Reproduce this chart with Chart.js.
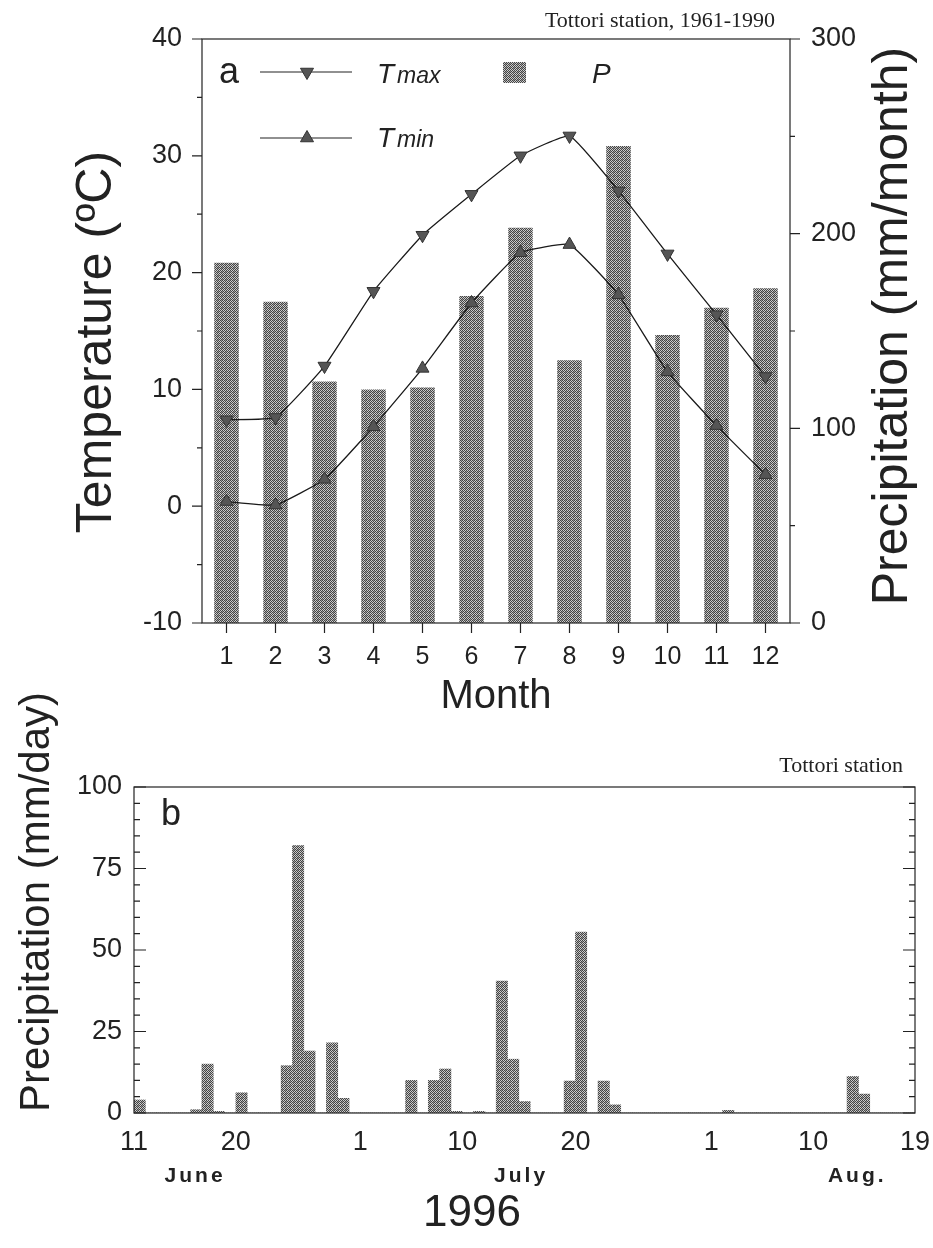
<!DOCTYPE html>
<html>
<head>
<meta charset="utf-8">
<script src="https://cdn.jsdelivr.net/npm/chart.js@4.4.1/dist/chart.umd.min.js"></script>
<style>
    body { margin: 0; background: #fff; width: 933px; height: 1248px; position: relative; overflow: hidden; }
    canvas { position: absolute; left: 0; }
    #chartA { top: 0; }
    #chartB { top: 690px; }
</style>
</head>
<body>
<canvas id="chartA" width="933" height="730" style="width:933px;height:730px"></canvas>
<canvas id="chartB" width="933" height="558" style="width:933px;height:558px"></canvas>
<script>
// Panel a: monthly normals, Tottori 1961-1990
const months = ["1", "2", "3", "4", "5", "6", "7", "8", "9", "10", "11", "12"];
const tmax = [7.4, 7.6, 12.0, 18.4, 23.2, 26.7, 30.0, 31.7, 27.0, 21.6, 16.4, 11.1];
const tmin = [0.4, 0.1, 2.3, 6.8, 11.8, 17.4, 21.7, 22.4, 18.1, 11.5, 6.9, 2.7];
const precipMonth = [185, 165, 124, 120, 121, 168, 203, 135, 245, 148, 162, 172];

// Panel b: daily precipitation, 11 June - 18 August 1996 (day 0 = June 11)
const rainDaily = [
    4, 0, 0, 0, 0, 1, 15, 0.5, 0, 6.2,          // Jun 11-20
    0, 0, 0, 14.5, 82, 19, 0, 21.5, 4.5, 0,     // Jun 21-30
    0, 0, 0, 0, 10, 0, 10, 13.5, 0.5, 0,        // Jul 1-10
    0.5, 0, 40.5, 16.5, 3.5, 0, 0, 0, 9.8, 55.5, // Jul 11-20
    0, 9.8, 2.5, 0, 0, 0, 0, 0, 0, 0,           // Jul 21-30
    0, 0, 0.8, 0, 0, 0, 0, 0, 0, 0,             // Jul 31 - Aug 9
    0, 0, 0, 11.2, 5.8, 0, 0, 0, 0              // Aug 10-18
];
const dayTicks = [0, 9, 20, 29, 39, 51, 60, 69];
const dayTickLabels = ["11", "20", "1", "10", "20", "1", "10", "19"];
const monthNames = ["June", "July", "Aug."];
const monthNameAt = [5.4, 34.2, 63.9];

const ink = "#222";
const sans = "'Liberation Sans', Arial, sans-serif";
const serif = "'Liberation Serif', 'Times New Roman', serif";

function stipple(ctx) {
    const c = document.createElement("canvas");
    c.width = 4; c.height = 4;
    const g = c.getContext("2d");
    g.fillStyle = "#cccccc";
    g.fillRect(0, 0, 4, 4);
    g.fillStyle = "#444";
    [[0, 0], [2, 0], [1, 1], [3, 1], [0, 2], [2, 2], [1, 3], [3, 3]].forEach(([x, y]) => g.fillRect(x, y, 1, 1));
    g.fillStyle = "#999";
    g.fillRect(1, 0, 1, 1);
    g.fillRect(2, 3, 1, 1);
    return ctx.createPattern(c, "repeat");
}

function triangle(ctx, x, y, r, down) {
    const s = down ? -1 : 1;
    ctx.beginPath();
    ctx.moveTo(x, y - s * r);
    ctx.lineTo(x + r * 0.87, y + s * r * 0.5);
    ctx.lineTo(x - r * 0.87, y + s * r * 0.5);
    ctx.closePath();
    ctx.fillStyle = "#555";
    ctx.fill();
    ctx.strokeStyle = "#333";
    ctx.lineWidth = 1;
    ctx.stroke();
}

function vText(ctx, text, x, y, font) {
    ctx.save();
    ctx.translate(x, y);
    ctx.rotate(-Math.PI / 2);
    ctx.font = font;
    ctx.textAlign = "center";
    ctx.textBaseline = "middle";
    ctx.fillText(text, 0, 0);
    ctx.restore();
}

// box around the plot area plus tick marks (out or in)
const frame = {
    id: "frame",
    afterDatasetsDraw(chart, args, opts) {
        const { ctx, chartArea: a } = chart;
        ctx.save();
        ctx.strokeStyle = ink;
        ctx.lineWidth = 1.2;
        ctx.strokeRect(a.left, a.top, a.right - a.left, a.bottom - a.top);
        ctx.beginPath();
        opts.axes.forEach(ax => {
            const s = chart.scales[ax.id];
            s.ticks.forEach((t, i) => {
                if (s.isHorizontal()) {
                    const x = s.getPixelForTick(i);
                    ctx.moveTo(x, a.bottom);
                    ctx.lineTo(x, a.bottom + ax.len);
                } else {
                    const y = s.getPixelForValue(t.value);
                    const len = t.value % ax.major === 0 ? ax.len : ax.len / 2;
                    ax.at.forEach(([side, dir]) => {
                        ctx.moveTo(a[side], y);
                        ctx.lineTo(a[side] + dir * len, y);
                    });
                }
            });
        });
        ctx.stroke();
        ctx.restore();
    }
};

const notesA = {
    id: "notesA",
    afterDraw(chart) {
        const ctx = chart.ctx;
        ctx.save();
        ctx.fillStyle = ink;
        ctx.font = `22px ${serif}`;
        ctx.textAlign = "right";
        ctx.fillText("Tottori station, 1961-1990", 775, 27);
        ctx.textAlign = "left";
        ctx.font = `36px ${sans}`;
        ctx.fillText("a", 219, 83);

        ctx.strokeStyle = ink;
        ctx.lineWidth = 1.2;
        ctx.beginPath();
        ctx.moveTo(260, 72); ctx.lineTo(352, 72);
        ctx.moveTo(260, 138); ctx.lineTo(352, 138);
        ctx.stroke();
        triangle(ctx, 307, 72, 7.5, true);
        triangle(ctx, 307, 138, 7.5, false);

        ctx.fillStyle = ink;
        ctx.font = `italic 28px ${sans}`;
        ctx.fillText("T", 377, 83);
        ctx.fillText("T", 377, 147);
        ctx.fillText("P", 592, 83);
        ctx.font = `italic 23px ${sans}`;
        ctx.fillText("max", 397, 83);
        ctx.fillText("min", 397, 147);

        ctx.fillStyle = stipple(ctx);
        ctx.fillRect(503, 62, 23, 21);

        ctx.fillStyle = ink;
        vText(ctx, "Temperature (ºC)", 97, 342, `50px ${sans}`);
        vText(ctx, "Precipitation (mm/month)", 893, 326, `50px ${sans}`);
        ctx.restore();
    }
};

const notesB = {
    id: "notesB",
    afterDraw(chart) {
        const ctx = chart.ctx;
        const x = chart.scales.x;
        ctx.save();
        ctx.fillStyle = ink;
        ctx.font = `22px ${serif}`;
        ctx.textAlign = "right";
        ctx.fillText("Tottori station", 903, 82);
        ctx.textAlign = "left";
        ctx.font = `36px ${sans}`;
        ctx.fillText("b", 161, 135);

        vText(ctx, "Precipitation (mm/day)", 37, 212, `42px ${sans}`);

        ctx.textAlign = "center";
        ctx.textBaseline = "middle";
        ctx.font = `27px ${sans}`;
        dayTicks.forEach((d, i) => ctx.fillText(dayTickLabels[i], x.getPixelForValue(d), 453));

        ctx.font = `44px ${sans}`;
        ctx.fillText("1996", 472, 524);

        ctx.font = `bold 21px ${sans}`;
        ctx.letterSpacing = "3px";
        monthNames.forEach((m, i) => ctx.fillText(m, x.getPixelForValue(monthNameAt[i]), 486));
        ctx.restore();
    }
};

const ctxA = document.getElementById("chartA").getContext("2d");
const barFill = stipple(ctxA);

new Chart(ctxA, {
    type: "bar",
    data: {
        labels: months,
        datasets: [
            {
                type: "line", label: "Tmax", data: tmax, yAxisID: "y", order: 0,
                borderColor: "#1a1a1a", borderWidth: 1.3, tension: 0.12,
                pointStyle: "triangle", pointRotation: 180, pointRadius: 7.5,
                pointBackgroundColor: "#555", pointBorderColor: "#333", pointBorderWidth: 1
            },
            {
                type: "line", label: "Tmin", data: tmin, yAxisID: "y", order: 0,
                borderColor: "#1a1a1a", borderWidth: 1.3, tension: 0.12,
                pointStyle: "triangle", pointRadius: 7.5,
                pointBackgroundColor: "#555", pointBorderColor: "#333", pointBorderWidth: 1
            },
            {
                label: "P", data: precipMonth, yAxisID: "y2", order: 1,
                backgroundColor: barFill, borderWidth: 0,
                barPercentage: 0.5, categoryPercentage: 1
            }
        ]
    },
    options: {
        responsive: false,
        animation: false,
        layout: { autoPadding: false, padding: { top: 39, left: 0, right: 0, bottom: 0 } },
        plugins: {
            legend: { display: false },
            tooltip: { enabled: false },
            frame: {
                axes: [
                    { id: "x", len: 10 },
                    { id: "y", len: 10, major: 10, at: [["left", -1]] },
                    { id: "y2", len: 10, major: 100, at: [["right", 1]] }
                ]
            }
        },
        scales: {
            x: {
                grid: { display: false, drawTicks: false },
                border: { display: false },
                ticks: { color: ink, font: { family: sans, size: 25 }, padding: 19, maxRotation: 0 },
                title: { display: true, text: "Month", color: ink, font: { family: sans, size: 40 }, padding: { top: 0, bottom: 9 } },
                afterFit: s => { s.height = 107; }
            },
            y: {
                position: "left", min: -10, max: 40,
                grid: { display: false, drawTicks: false },
                border: { display: false },
                ticks: { stepSize: 5, autoSkip: false, color: ink, font: { family: sans, size: 27 }, padding: 20,
                    callback: v => (v % 10 === 0 ? v : "") },
                afterFit: s => { s.width = 202; }
            },
            y2: {
                position: "right", min: 0, max: 300,
                grid: { display: false, drawTicks: false },
                border: { display: false },
                ticks: { stepSize: 50, autoSkip: false, color: ink, font: { family: sans, size: 27 }, padding: 21,
                    callback: v => (v % 100 === 0 ? v : "") },
                afterFit: s => { s.width = 143; }
            }
        }
    },
    plugins: [frame, notesA]
});

const ctxB = document.getElementById("chartB").getContext("2d");

new Chart(ctxB, {
    type: "bar",
    data: {
        datasets: [{
            label: "P",
            data: rainDaily.map((v, i) => ({ x: i + 0.5, y: v })),
            backgroundColor: stipple(ctxB), borderWidth: 0,
            barPercentage: 1, categoryPercentage: 1
        }]
    },
    options: {
        responsive: false,
        animation: false,
        layout: { autoPadding: false, padding: { top: 97, left: 0, right: 18, bottom: 0 } },
        plugins: {
            legend: { display: false },
            tooltip: { enabled: false },
            frame: {
                axes: [
                    { id: "y", len: 12, major: 25, at: [["left", 1], ["right", -1]] }
                ]
            }
        },
        scales: {
            x: {
                type: "linear", min: 0, max: 69, offset: false,
                grid: { display: false, drawTicks: false },
                border: { display: false },
                afterBuildTicks: s => { s.ticks = dayTicks.map(v => ({ value: v })); },
                ticks: { display: false },
                afterFit: s => { s.height = 135; }
            },
            y: {
                min: 0, max: 100,
                grid: { display: false, drawTicks: false },
                border: { display: false },
                ticks: { stepSize: 5, autoSkip: false, color: ink, font: { family: sans, size: 27 }, padding: 12,
                    callback: v => (v % 25 === 0 ? v : "") },
                afterFit: s => { s.width = 134; }
            }
        }
    },
    plugins: [frame, notesB]
});
</script>
</body>
</html>
